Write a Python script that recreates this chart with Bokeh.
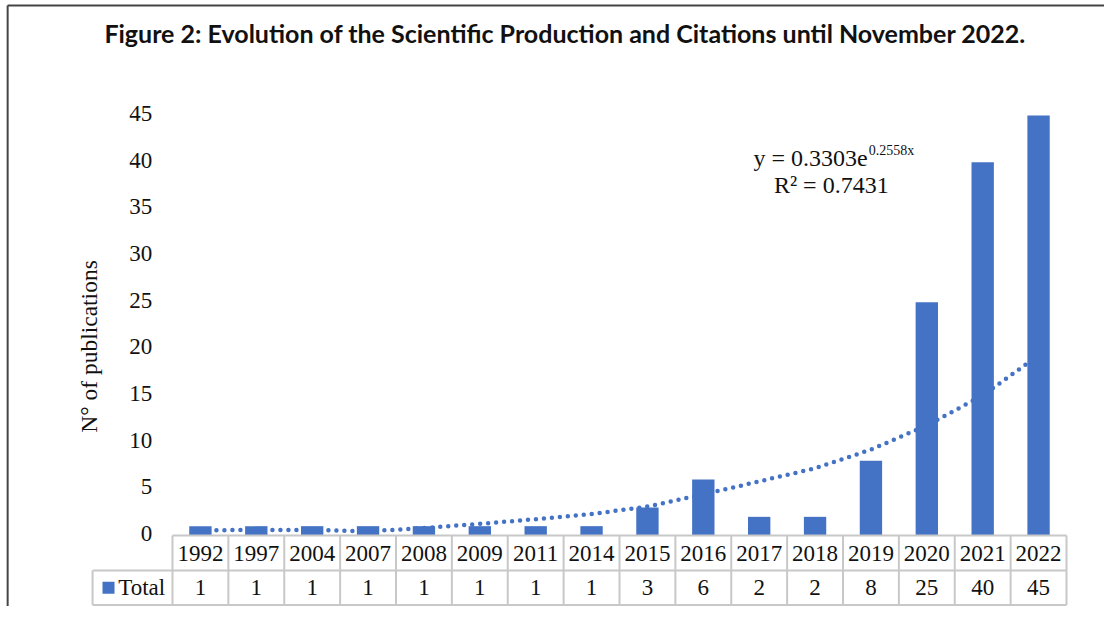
from bokeh.plotting import figure
from bokeh.models import ColumnDataSource
from bokeh.core.properties import value
from bokeh.embed import file_html
from bokeh.resources import INLINE

# ---- data ----
years = ["1992", "1997", "2004", "2007", "2008", "2009", "2011", "2014",
         "2015", "2016", "2017", "2018", "2019", "2020", "2021", "2022"]
totals = [1, 1, 1, 1, 1, 1, 1, 1, 3, 6, 2, 2, 8, 25, 40, 45]
trend_values = [0.55, 0.6, 0.6, 0.45, 0.8, 1.25, 1.75, 2.3, 3.1, 4.4,
                5.8, 7.2, 9.2, 11.8, 15.0, 19.3]
y_ticks = [0, 5, 10, 15, 20, 25, 30, 35, 40, 45]
title_text = "Figure 2: Evolution of the Scientific Production and Citations until November 2022."
y_title = "N\u00b0 of publications"
series_name = "Total"
eq_main = "y = 0.3303e"
eq_sup = "0.2558x"
r2_text = "R\u00b2 = 0.7431"

BLUE = "#4472C4"
GRID = "#C8C8C8"
SERIF = value("Liberation Serif")
INK = "#111111"

n = len(years)
xs = list(range(n))

# layout constants (data units)
ROW_SPLIT = -3.75
TABLE_BOTTOM = -7.45
LEGEND_LEFT = -1.93
VROW = -5.6
X_START, X_END = -3.578, 16.18
Y_START, Y_END = -7.607, 57.32
FRAME_TOP, FRAME_LEFT = 56.78, -3.45

p = figure(width=1104, height=606, output_backend="svg", toolbar_location=None,
           x_range=(X_START, X_END), y_range=(Y_START, Y_END),
           x_axis_type=None, y_axis_type=None, min_border=0)
p.grid.visible = False
p.outline_line_color = None
p.background_fill_color = "white"
p.border_fill_color = "white"

# frame lines (top and left)
p.segment(x0=[FRAME_LEFT, FRAME_LEFT], y0=[FRAME_TOP, FRAME_TOP],
          x1=[X_END, FRAME_LEFT], y1=[FRAME_TOP, Y_START],
          line_color="#444444", line_width=2)

# title
p.text(x=[6.53], y=[53.79], text=[title_text],
       text_font=value("Lato"), text_font_style="bold", text_font_size="25px",
       text_align="center", text_baseline="middle", text_color=INK)

# y tick labels
p.text(x=[-0.86] * len(y_ticks), y=y_ticks, text=[str(t) for t in y_ticks],
       text_font=SERIF, text_font_size="23px", text_align="right",
       text_baseline="middle", y_offset=-2, text_color=INK)

# y axis title
p.text(x=[-2.0], y=[20.25], text=[y_title], angle=1.5707963,
       text_font=SERIF, text_font_size="23.5px", text_align="center",
       text_baseline="middle", text_color=INK)

# trend line (behind bars)
p.line(x=xs, y=trend_values, line_color=BLUE, line_width=4.5,
       line_dash="0 8", line_cap="round")

# bars
src = ColumnDataSource(dict(x=xs, top=totals, year=years,
                            yrow=[ROW_SPLIT / 2] * n,
                            vrow=[VROW] * n,
                            vtxt=[str(v) for v in totals]))
p.vbar(x="x", top="top", bottom=0, width=0.4, source=src,
       fill_color=BLUE, line_color=None)

# equation
p.text(x=[11.94], y=[40.4], text=[eq_main], text_font=SERIF, text_font_size="24px",
       text_align="right", text_baseline="middle", text_color=INK)
p.text(x=[11.96], y=[41.3], text=[eq_sup], text_font=SERIF, text_font_size="14px",
       text_align="left", text_baseline="middle", text_color=INK)
p.text(x=[11.29], y=[37.5], text=[r2_text], text_font=SERIF, text_font_size="24px",
       text_align="center", text_baseline="middle", text_color=INK)

# data table grid
bounds = [i - 0.5 for i in range(n + 1)]
x0s, y0s, x1s, y1s = [], [], [], []
for b in bounds:
    x0s.append(b); y0s.append(0); x1s.append(b); y1s.append(TABLE_BOTTOM)
x0s.append(LEGEND_LEFT); y0s.append(ROW_SPLIT); x1s.append(LEGEND_LEFT); y1s.append(TABLE_BOTTOM)
x0s.append(bounds[0]); y0s.append(0); x1s.append(bounds[-1]); y1s.append(0)
x0s.append(LEGEND_LEFT); y0s.append(ROW_SPLIT); x1s.append(bounds[-1]); y1s.append(ROW_SPLIT)
x0s.append(LEGEND_LEFT); y0s.append(TABLE_BOTTOM); x1s.append(bounds[-1]); y1s.append(TABLE_BOTTOM)
p.segment(x0=x0s, y0=y0s, x1=x1s, y1=y1s, line_color=GRID, line_width=2)

# table text
p.text(x="x", y="yrow", text="year", source=src,
       text_font=SERIF, text_font_size="23px", text_align="center",
       text_baseline="middle", text_color=INK)
p.text(x="x", y="vrow", text="vtxt", source=src,
       text_font=SERIF, text_font_size="23px", text_align="center",
       text_baseline="middle", text_color=INK)

# legend key in table
p.scatter(x=[-1.645], y=[VROW], marker="square", size=12,
          fill_color=BLUE, line_color=None)
p.text(x=[-1.47], y=[VROW], text=[series_name],
       text_font=SERIF, text_font_size="23px", text_align="left",
       text_baseline="middle", text_color=INK)

open("out.html", "w").write(file_html(p, INLINE))
